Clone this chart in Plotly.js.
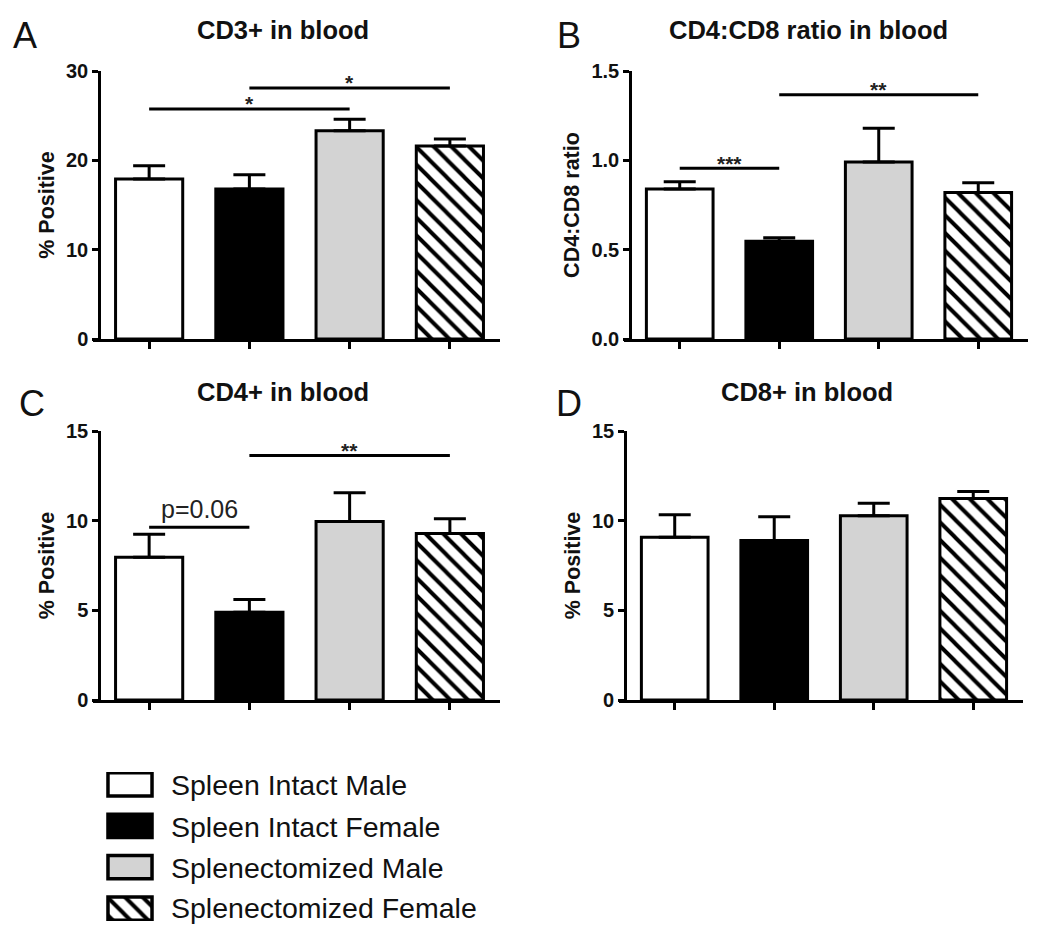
<!DOCTYPE html>
<html><head><meta charset="utf-8">
<script src="https://cdn.plot.ly/plotly-3.0.1.min.js"></script>
<style>html,body{margin:0;padding:0;background:#fff}</style>
</head><body><div id="chart" style="width:1050px;height:931px"></div>
<script>
// ---- data ----
const groups = ['Spleen Intact Male', 'Spleen Intact Female', 'Splenectomized Male', 'Splenectomized Female'];

const cd3Mean = [17.9, 16.8, 23.3, 21.6];
const cd3Upper = [19.4, 18.4, 24.6, 22.4];
const ratioMean = [0.84, 0.547, 0.99, 0.82];
const ratioUpper = [0.88, 0.567, 1.18, 0.875];
const cd4Mean = [7.96, 4.89, 9.95, 9.28];
const cd4Upper = [9.24, 5.6, 11.56, 10.1];
const cd8Mean = [9.07, 8.9, 10.28, 11.23];
const cd8Upper = [10.33, 10.22, 10.97, 11.62];

const panelLetters = ['A', 'B', 'C', 'D'];
const panelTitles = ['CD3+ in blood', 'CD4:CD8 ratio in blood', 'CD4+ in blood', 'CD8+ in blood'];
const yTitles = ['% Positive', 'CD4:CD8 ratio', '% Positive', '% Positive'];
const yMax = [30, 1.5, 15, 15];
const yStep = [10, 0.5, 5, 5];
const yFormat = ['d', '.1f', 'd', 'd'];

// significance comparisons (group index from/to, bar level, label)
const cd3SigFrom = [0, 1], cd3SigTo = [2, 3], cd3SigLevel = [25.75, 28.1], cd3SigLabel = ['*', '*'];
const ratioSigFrom = [0, 1], ratioSigTo = [1, 3], ratioSigLevel = [0.955, 1.367], ratioSigLabel = ['***', '**'];
const cd4SigFrom = [0, 1], cd4SigTo = [1, 3], cd4SigLevel = [9.63, 13.64], cd4SigLabel = ['p=0.06', '**'];
const cd8SigFrom = [], cd8SigTo = [], cd8SigLevel = [], cd8SigLabel = [];

// ---- styles ----
const groupFill = ['#ffffff', '#000000', '#d3d3d3', '#ffffff'];
const groupPattern = ['', '', '', '\\'];
const FONT = 'Liberation Sans, Arial, Helvetica, sans-serif';
const W = 1050, H = 931;

const panels = [
  {mean: cd3Mean, upper: cd3Upper, sf: cd3SigFrom, st: cd3SigTo, sl: cd3SigLevel, slab: cd3SigLabel},
  {mean: ratioMean, upper: ratioUpper, sf: ratioSigFrom, st: ratioSigTo, sl: ratioSigLevel, slab: ratioSigLabel},
  {mean: cd4Mean, upper: cd4Upper, sf: cd4SigFrom, st: cd4SigTo, sl: cd4SigLevel, slab: cd4SigLabel},
  {mean: cd8Mean, upper: cd8Upper, sf: cd8SigFrom, st: cd8SigTo, sl: cd8SigLevel, slab: cd8SigLabel}
];
// pixel layout for each panel
const box = [
  {left: 93, width: 407, top: 71, bottom: 339, titleX: 283, titleY: 30, letterX: 25, letterY: 35},
  {left: 624, width: 404, top: 71, bottom: 339, titleX: 808, titleY: 30, letterX: 569, letterY: 35},
  {left: 93, width: 407, top: 431, bottom: 700, titleX: 283, titleY: 392, letterX: 32, letterY: 404},
  {left: 619, width: 404, top: 431, bottom: 700, titleX: 807, titleY: 392, letterX: 569, letterY: 403}
];
const XR = [-0.56, 3.5];
const px = v => v / W, py = v => 1 - v / H;

function markerFor(g, lw) {
  const m = {color: groupFill[g], line: {color: '#000', width: lw}};
  if (groupPattern[g]) {
    m.pattern = {shape: groupPattern[g], fgcolor: '#000000', bgcolor: '#ffffff',
      fillmode: 'replace', size: 12.5, solidity: 0.32};
  }
  return m;
}

const data = [];
const layout = {
  width: W, height: H, margin: {l: 0, r: 0, t: 0, b: 0},
  paper_bgcolor: '#fff', plot_bgcolor: 'rgba(0,0,0,0)',
  showlegend: false, barmode: 'overlay', font: {family: FONT, color: '#000'},
  annotations: []
};
const idx = groups.map((g, i) => i);

panels.forEach((p, k) => {
  const n = k + 1, xa = 'x' + n, ya = 'y' + n;
  const b = box[k];
  groups.forEach((g, i) => {
    data.push({
      type: 'bar', name: g, x: [i], y: [p.mean[i]], xaxis: xa, yaxis: ya, width: 0.67,
      marker: markerFor(i, 3),
      error_y: {type: 'data', symmetric: false, array: [p.upper[i] - p.mean[i]],
        arrayminus: [0], color: '#000', thickness: 3, width: 16}
    });
  });
  p.sf.forEach((f, j) => {
    data.push({type: 'scatter', mode: 'lines', x: [f, p.st[j]], y: [p.sl[j], p.sl[j]],
      xaxis: xa, yaxis: ya, line: {color: '#000', width: 3}, hoverinfo: 'skip', cliponaxis: false});
    const isP = p.slab[j].startsWith('p');
    layout.annotations.push({xref: xa, yref: ya, x: (f + p.st[j]) / 2, y: p.sl[j],
      text: p.slab[j], showarrow: false, yanchor: isP ? 'bottom' : 'middle',
      yshift: isP ? 2 : 5,
      font: {family: FONT, size: isP ? 25 : 21, weight: isP ? 'normal' : 'bold', color: '#222'}});
  });
  const pxPerUnit = b.width / (XR[1] - XR[0]);
  layout['xaxis' + n] = {
    domain: [px(b.left), px(b.left + b.width)], range: XR, anchor: ya,
    tickmode: 'array', tickvals: idx, showticklabels: false,
    ticks: 'outside', ticklen: 7, tickwidth: 2.5, tickcolor: '#000',
    showline: true, linewidth: 2.5, linecolor: '#000', showgrid: false, zeroline: false, fixedrange: true
  };
  layout['yaxis' + n] = {
    domain: [py(b.bottom), py(b.top)], range: [0, yMax[k]], anchor: 'free',
    position: px(b.left + (-0.5 - XR[0]) * pxPerUnit),
    tickmode: 'linear', tick0: 0, dtick: yStep[k], tickformat: yFormat[k],
    ticks: 'outside', ticklen: 6, tickwidth: 2.5, tickcolor: '#000',
    showline: true, linewidth: 2.5, linecolor: '#000', showgrid: false, zeroline: false, fixedrange: true,
    tickfont: {family: FONT, size: 20, weight: 'bold', color: '#111'},
    title: {text: yTitles[k], standoff: 4, font: {family: FONT, size: 21.5, weight: 'bold', color: '#111'}}
  };
  layout.annotations.push({xref: 'paper', yref: 'paper', x: px(b.titleX), y: py(b.titleY),
    xanchor: 'center', yanchor: 'middle', showarrow: false, text: panelTitles[k],
    font: {family: FONT, size: 25.5, weight: 'bold', color: '#111'}});
  layout.annotations.push({xref: 'paper', yref: 'paper', x: px(b.letterX), y: py(b.letterY),
    xanchor: 'center', yanchor: 'middle', showarrow: false, text: panelLetters[k],
    font: {family: FONT, size: 36, color: '#111'}});
});

// legend key drawn as small bars on a helper axis
groups.forEach((g, i) => {
  data.push({
    type: 'bar', orientation: 'h', name: g, y: [i], x: [1], base: 0, width: 0.56,
    xaxis: 'x5', yaxis: 'y5', hoverinfo: 'skip', marker: markerFor(i, 3.5)
  });
});
layout.xaxis5 = {domain: [px(106), px(154)], range: [-0.045, 1.045], visible: false, fixedrange: true, anchor: 'y5'};
layout.yaxis5 = {domain: [py(921), py(772)], range: [3.3, -0.3], visible: false, fixedrange: true, anchor: 'x5'};
const legendRowY = [785, 827, 868, 908];
groups.forEach((g, i) => {
  layout.annotations.push({xref: 'paper', yref: 'paper', x: px(169), y: py(legendRowY[i]),
    xanchor: 'left', yanchor: 'middle', showarrow: false, text: g,
    font: {family: FONT, size: 28.5, color: '#111'}});
});

Plotly.newPlot('chart', data, layout, {displayModeBar: false});
</script>
</body></html>
